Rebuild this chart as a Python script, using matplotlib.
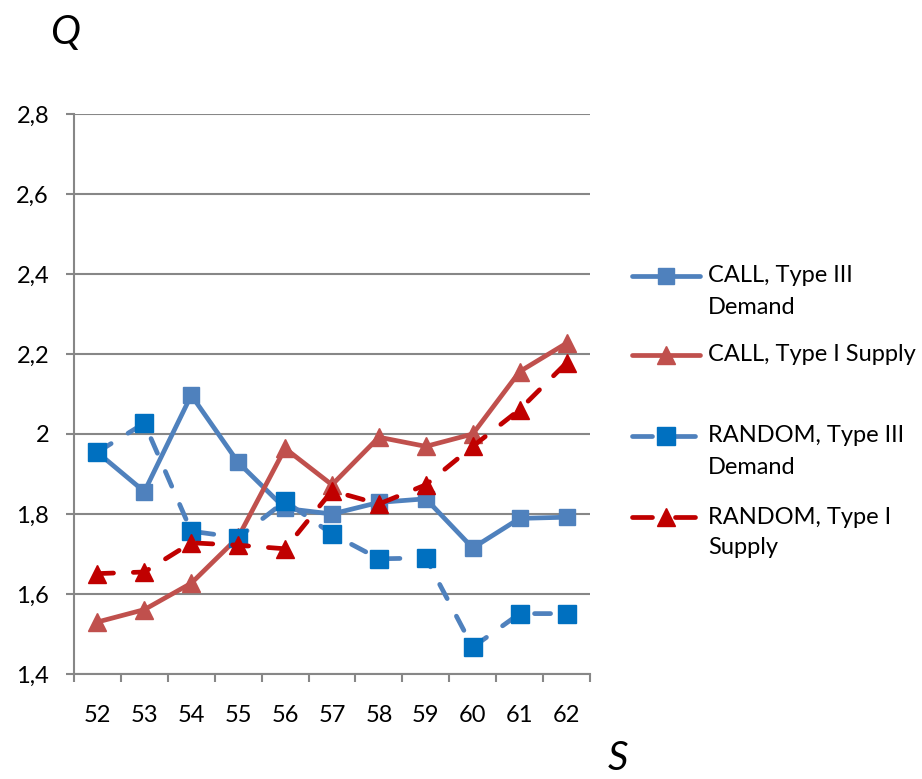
import matplotlib
matplotlib.use('Agg')
import matplotlib.pyplot as plt
from matplotlib.lines import Line2D
import numpy as np

plt.rcParams['font.family'] = ['Lato', 'DejaVu Sans']

# data
s_values = [52, 53, 54, 55, 56, 57, 58, 59, 60, 61, 62]
call_demand = [1.954, 1.856, 2.097, 1.929, 1.814, 1.800, 1.829, 1.838, 1.715, 1.789, 1.792]
call_supply = [1.530, 1.561, 1.627, 1.742, 1.964, 1.873, 1.992, 1.969, 2.000, 2.156, 2.227]
random_demand = [1.955, 2.027, 1.757, 1.741, 1.832, 1.750, 1.688, 1.690, 1.467, 1.551, 1.551]
random_supply = [1.651, 1.655, 1.728, 1.722, 1.713, 1.858, 1.825, 1.873, 1.969, 2.061, 2.178]
y_ticks = [1.4, 1.6, 1.8, 2.0, 2.2, 2.4, 2.6, 2.8]
y_tick_labels = ['1,4', '1,6', '1,8', '2', '2,2', '2,4', '2,6', '2,8']

W, H = 922, 779
fig = plt.figure(figsize=(W / 100, H / 100), dpi=100)
ax = fig.add_axes([74 / W, 1 - 674 / H, (590 - 74) / W, (674 - 114) / H])

x = np.arange(len(s_values))
dash = (0, (3.4, 4.2))
LW = 3.4
FS = 17

series = [
    dict(y=call_demand, color='#4F81BD', mfc='#4F81BD', marker='s', ms=11.5, ls='-',
         label=['CALL, Type III', 'Demand']),
    dict(y=call_supply, color='#C0504D', mfc='#C0504D', marker='^', ms=12.5, ls='-',
         label=['CALL, Type I Supply']),
    dict(y=random_demand, color='#4F81BD', mfc='#0070C0', marker='s', ms=12.5, ls=dash,
         label=['RANDOM, Type III', 'Demand']),
    dict(y=random_supply, color='#C00000', mfc='#C00000', marker='^', ms=12.5, ls=dash,
         label=['RANDOM, Type I', 'Supply']),
]

for sr in series:
    ax.plot(x, sr['y'], color=sr['color'], lw=LW, ls=sr['ls'], marker=sr['marker'],
            ms=sr['ms'], mfc=sr['mfc'], mec=sr['mfc'], dash_capstyle='round',
            solid_capstyle='round')

ax.set_xlim(-0.5, len(s_values) - 0.5)
ax.set_ylim(1.4, 2.8)
ax.set_yticks(y_ticks)
ax.set_yticklabels(y_tick_labels)
ax.set_xticks(x)
ax.set_xticklabels([str(v) for v in s_values])
ax.set_xticks(np.arange(-0.5, len(s_values)), minor=True)
ax.tick_params(axis='x', which='major', length=0, pad=22, labelsize=FS)
ax.tick_params(axis='x', which='minor', length=6, width=1.5, color='#878787')
ax.tick_params(axis='y', length=6, width=1.5, color='#878787', pad=12, labelsize=FS)

ax.grid(axis='y', color='#878787', lw=1.5)
ax.set_axisbelow(True)
for side in ['top', 'right']:
    ax.spines[side].set_visible(False)
for side in ['left', 'bottom']:
    ax.spines[side].set_color('#878787')
    ax.spines[side].set_linewidth(1.5)

fig.text(65 / W, 1 - 32 / H, 'Q', fontsize=29, style='italic', ha='center', va='center')
fig.text(618 / W, 1 - 758 / H, 'S', fontsize=29, style='italic', ha='center', va='center')

# legend drawn by hand so the handle sits on the first text line
leg_y = [276, 355, 436, 517]
for sr, ly in zip(series, leg_y):
    yy = 1 - ly / H
    if sr['ls'] == '-':
        fig.add_artist(Line2D([632 / W, 700 / W], [yy, yy], transform=fig.transFigure,
                              color=sr['color'], lw=LW, solid_capstyle='round'))
    else:
        for a, b in [(632, 652), (675, 695)]:
            fig.add_artist(Line2D([a / W, b / W], [yy, yy], transform=fig.transFigure,
                                  color=sr['color'], lw=LW, solid_capstyle='round'))
    fig.add_artist(Line2D([666 / W], [yy], transform=fig.transFigure, marker=sr['marker'],
                          ms=sr['ms'], mfc=sr['mfc'], mec=sr['mfc'], ls='none'))
    for i, line in enumerate(sr['label']):
        fig.text(708 / W, 1 - (ly + 31 * i) / H, line, fontsize=FS, ha='left', va='center')

fig.savefig('out.png', dpi=100)
